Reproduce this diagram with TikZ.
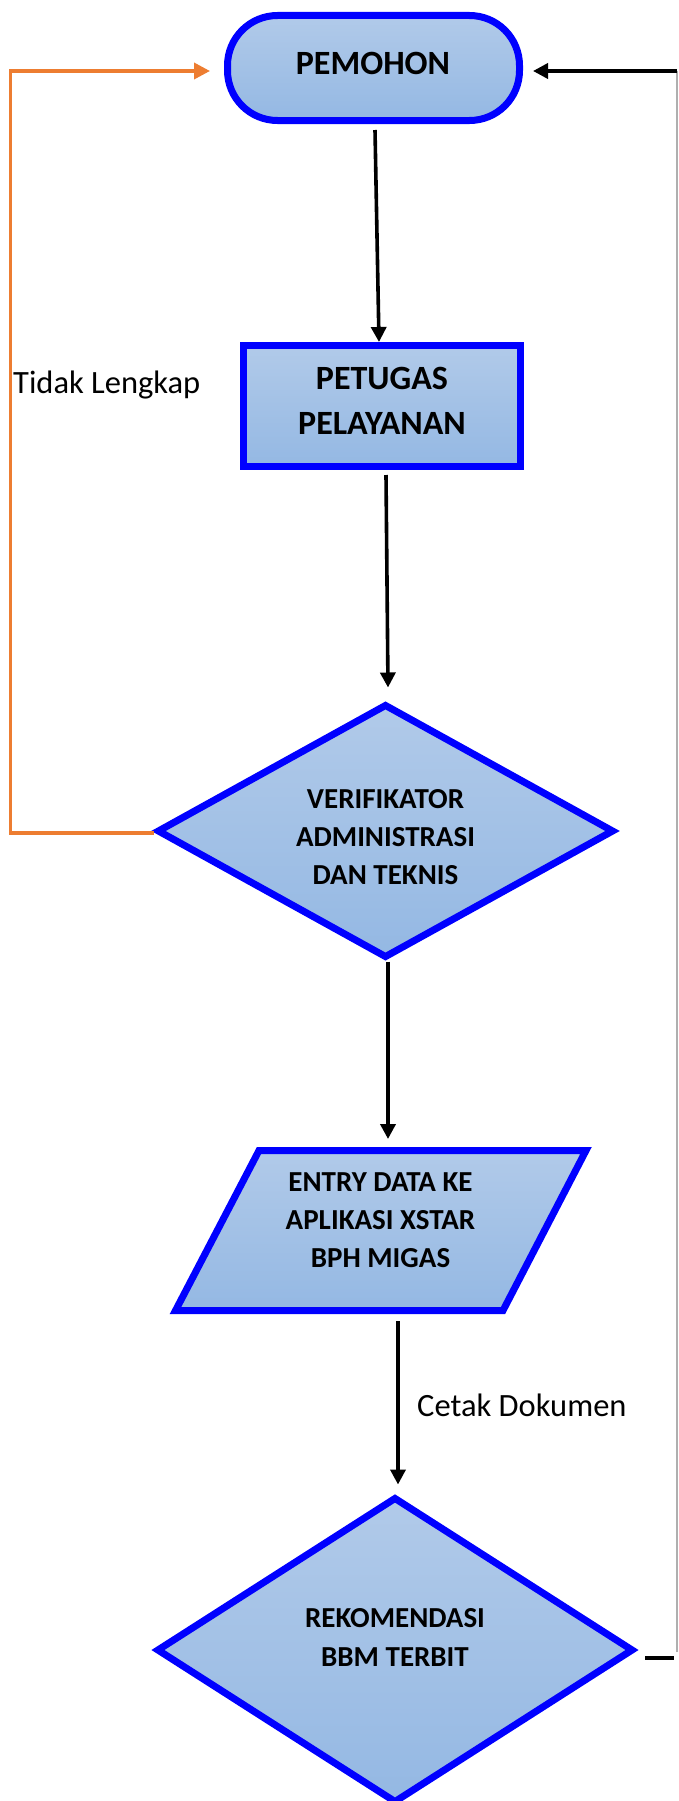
\documentclass[tikz,border=0pt]{standalone}
\usepackage{fontspec}
\setmainfont{Carlito}
\usetikzlibrary{shapes.geometric,arrows.meta}
\definecolor{boxtop}{RGB}{177,202,233}
\definecolor{boxbot}{RGB}{148,184,227}
\definecolor{orng}{RGB}{237,125,49}
\definecolor{rline}{RGB}{175,175,175}
\begin{document}
\begin{tikzpicture}[x=1pt,y=-1pt,
  box/.style={draw=blue, line width=7pt, top color=boxtop, bottom color=boxbot, inner sep=0pt},
  txtbig/.style={font=\bfseries\fontsize{34}{45}\selectfont, align=center, inner sep=0pt},
  txtmid/.style={font=\bfseries\fontsize{29}{38.3}\selectfont, align=center, inner sep=0pt},
  lbl/.style={font=\fontsize{32.5}{38}\selectfont, inner sep=0pt},
  arr/.style={draw=black, line width=3.6pt, -{Triangle[length=15pt,width=15pt]}},
  oarr/.style={draw=orng, line width=3.6pt, -{Triangle[length=16pt,width=16pt]}},
  blkline/.style={draw=black, line width=3.8pt},
  gline/.style={draw=rline, line width=1.2pt}]
\useasboundingbox (0,0) rectangle (678,1801);

% shapes
\node[box, rounded corners=50pt, minimum width=292pt, minimum height=105pt] (pemohon) at (373.5,68) {};
\node[txtbig] (pemohontext) at (373,63) {PEMOHON};

\node[box, minimum width=277pt, minimum height=121pt] (petugas) at (382,406) {};
\node[txtbig] (petugastext) at (382,400.5) {PETUGAS\\PELAYANAN};

\node[box, diamond, minimum width=457pt, minimum height=254pt] (verif) at (385.5,831) {};
\node[txtmid] (veriftext) at (385.5,837) {VERIFIKATOR\\ADMINISTRASI\\DAN TEKNIS};

\path[box] (259,1150.5) -- (586,1150.5) -- (503,1310.5) -- (175.5,1310.5) -- cycle;
\node[txtmid] (entry) at (380.5,1220) {ENTRY DATA KE\\APLIKASI XSTAR\\BPH MIGAS};
\coordinate (entrytop) at (388,1147);
\coordinate (entrybot) at (398,1314);

\node[box, diamond, minimum width=477pt, minimum height=306pt] (rekom) at (395,1650) {};
\node[txtmid] (rekomtext) at (395,1637.5) {REKOMENDASI\\BBM TERBIT};

% labels
\node[lbl, anchor=base west] (tidak) at (13,393) {Tidak Lengkap};
\node[lbl, anchor=base west] (cetak) at (417,1416) {Cetak Dokumen};

% connectors
\draw[arr] ([xshift=1.5pt,yshift=-6pt]pemohon.south) -- ([xshift=-3pt]petugas.north);
\draw[arr] ([xshift=4pt,yshift=-5pt]petugas.south) -- ([xshift=2.5pt,yshift=13pt]verif.north);
\draw[arr] ([xshift=2.5pt]verif.south) -- ([yshift=8pt]entrytop);
\draw[arr] ([yshift=-7pt]entrybot) -- ([xshift=3pt,yshift=9pt]rekom.north);

\draw[oarr] ([yshift=-2pt]verif.west) -- ++(-143,0) |- ([xshift=-14pt,yshift=-3pt]pemohon.west);

\coordinate (rbend) at (677,1652);
\coordinate (rtop) at (677,71);
\draw[blkline] ([xshift=8pt,yshift=-8pt]rekom.east) -- ++(29,0);
\draw[gline] (rbend) -- (rtop);
\draw[arr] (rtop) -- ([xshift=10pt,yshift=-3pt]pemohon.east);
\end{tikzpicture}
\end{document}
